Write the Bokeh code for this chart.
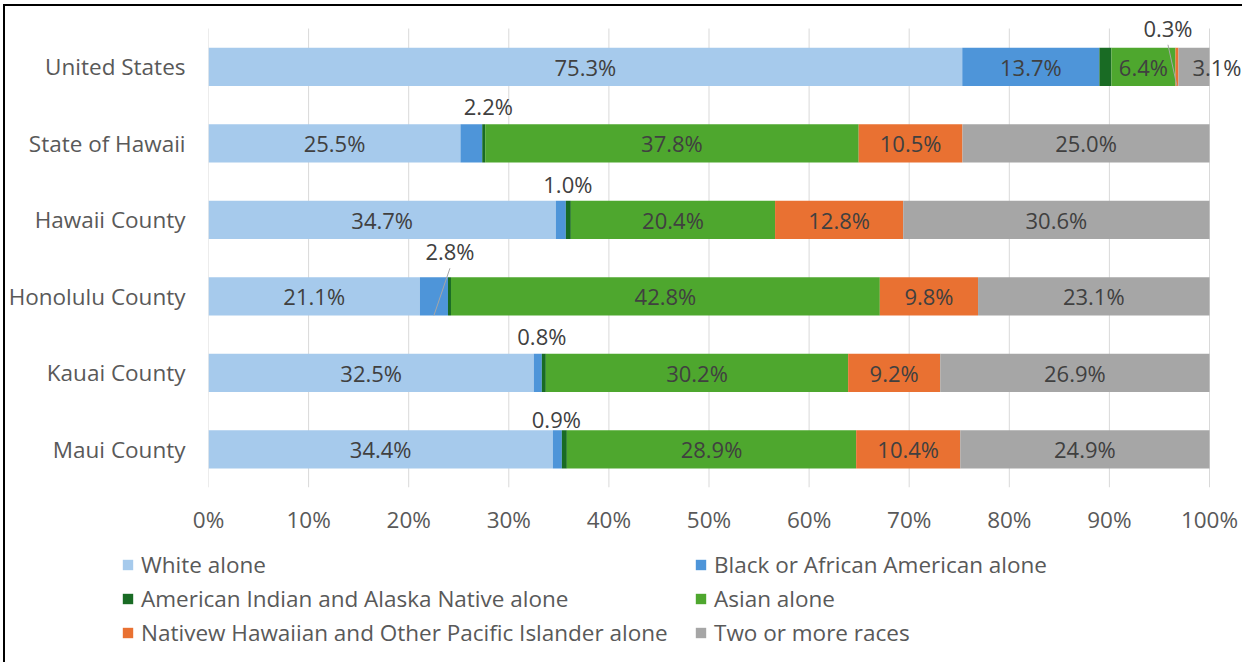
from bokeh.plotting import figure
from bokeh.layouts import column
from bokeh.models import (ColumnDataSource, Range1d, FixedTicker, Legend, LegendItem)
from bokeh.embed import file_html
from bokeh.resources import INLINE
from bokeh.core.properties import value

# ---------------- data ----------------
areas = ["United States", "State of Hawaii", "Hawaii County",
         "Honolulu County", "Kauai County", "Maui County"]
series = ["White alone", "Black or African American alone",
          "American Indian and Alaska Native alone", "Asian alone",
          "Nativew Hawaiian and Other Pacific Islander alone", "Two or more races"]
white = [75.3, 25.5, 34.7, 21.1, 32.5, 34.4]
black = [13.7, 2.2, 1.0, 2.8, 0.8, 0.9]
aian = [1.2, 0.3, 0.5, 0.3, 0.4, 0.5]
asian = [6.4, 37.8, 20.4, 42.8, 30.2, 28.9]
nhpi = [0.3, 10.5, 12.8, 9.8, 9.2, 10.4]
two_more = [3.1, 25.0, 30.6, 23.1, 26.9, 24.9]
x_ticks = [0, 10, 20, 30, 40, 50, 60, 70, 80, 90, 100]
x_tick_labels = ["0%", "10%", "20%", "30%", "40%", "50%", "60%", "70%", "80%", "90%", "100%"]

# ---------------- styles ----------------
colors = ["#A6CAEC", "#4E95D9", "#196B24", "#4EA72E", "#E97132", "#A6A6A6"]
FONT = value("Open Sans")
FS = "22px"
AX_FS = "22.5px"
keys = ["s0", "s1", "s2", "s3", "s4", "s5"]
outside_labels = {(0, 4): (-9, -39), (1, 1): (17, -37), (2, 1): (7, -36),
                  (3, 1): (16, -45), (4, 1): (4, -37), (5, 1): (-1, -30)}
nudged_labels = {(0, 5): (23, 0)}
hidden_series = {2}
hidden_inside = {(i, 1) for i in range(1, 6)}
leader_lines = [(0, 4), (3, 1)]
FRAME_W, FRAME_H = 1036, 480
PX_X = 1001 / 100.0   # px per % unit
PX_Y = 459 / 6.0      # px per category unit
BAR_H = 0.5
n = len(areas)
ypos = [n - 0.5 - i for i in range(n)]

all_vals = [white, black, aian, asian, nhpi, two_more]
norm = {k: [] for k in keys}
for i in range(n):
    tot = sum(v[i] for v in all_vals)
    for k, v in zip(keys, all_vals):
        norm[k].append(v[i] / tot * 100.0)

src = ColumnDataSource(dict(y=ypos, **norm))

p = figure(x_range=Range1d(0, FRAME_W / PX_X), y_range=Range1d(0, FRAME_H / PX_Y),
           frame_width=FRAME_W, frame_height=FRAME_H,
           min_border_left=201, min_border_right=0, min_border_top=1,
           min_border_bottom=52,
           output_backend="svg", toolbar_location=None)

# vertical gridlines spanning the category band only
p.segment(x0=x_ticks, x1=x_ticks, y0=[0] * len(x_ticks), y1=[n] * len(x_ticks),
          line_color="#D9D9D9", line_width=1, level="underlay")

rends = p.hbar_stack(keys, y="y", height=BAR_H, color=colors, source=src,
                     line_color=None)

# data labels
lx, ly, lt, ldx, ldy = [], [], [], [], []
seg_lines = dict(x0=[], y0=[], x1=[], y1=[])
for i in range(n):
    cum = 0.0
    for j, k in enumerate(keys):
        w = norm[k][i]
        c = cum + w / 2.0
        cum += w
        if j in hidden_series:
            continue
        if (i, j) in outside_labels:
            dx, dy = outside_labels[(i, j)]
        elif (i, j) in hidden_inside:
            continue
        else:
            dx, dy = nudged_labels.get((i, j), (0, 0))
        lx.append(c)
        ly.append(ypos[i])
        lt.append(f"{all_vals[j][i]:.1f}%")
        ldx.append(dx)
        ldy.append(dy)
        if (i, j) in leader_lines:
            seg_lines["x0"].append(c + dx / PX_X)
            seg_lines["y0"].append(ypos[i] + (-dy - 17) / PX_Y)
            seg_lines["x1"].append(c)
            seg_lines["y1"].append(ypos[i] - BAR_H / 2)

p.segment(x0="x0", y0="y0", x1="x1", y1="y1", source=ColumnDataSource(seg_lines),
          line_color="#A6A6A6", line_width=1)
p.text(x="x", y="y", text="t", x_offset="dx", y_offset="dy",
       source=ColumnDataSource(dict(x=lx, y=ly, t=lt, dx=ldx, dy=ldy)),
       text_align="center", text_baseline="middle", text_font=FONT,
       text_font_size=FS, text_color="#404040")

# axes
p.xaxis.ticker = FixedTicker(ticks=x_ticks)
p.xaxis.major_label_overrides = {t: l for t, l in zip(x_ticks, x_tick_labels)}
p.yaxis.ticker = FixedTicker(ticks=ypos)
p.yaxis.major_label_overrides = {y: a for y, a in zip(ypos, areas)}
for ax in (p.xaxis[0], p.yaxis[0]):
    ax.axis_line_color = None
    ax.major_tick_line_color = None
    ax.minor_tick_line_color = None
    ax.major_label_text_font = "Open Sans"
    ax.major_label_text_font_size = AX_FS
    ax.major_label_text_color = "#595959"
p.xaxis.major_label_standoff = 10
p.yaxis.major_label_standoff = 17
p.xgrid.grid_line_color = None
p.ygrid.grid_line_color = None
p.outline_line_color = None

# legend panel: a second, axis-less figure holding a two-column legend
p2 = figure(x_range=Range1d(0, 1), y_range=Range1d(0, 1),
            frame_width=1237, frame_height=125,
            min_border_left=0, min_border_right=0, min_border_top=0, min_border_bottom=0,
            output_backend="svg", toolbar_location=None)
p2.axis.visible = False
p2.grid.visible = False
p2.outline_line_color = None
nan = float("nan")
swatches = [p2.hbar(y=[nan], left=[nan], right=[nan], height=1,
                    fill_color=c, line_color=None) for c in colors]
legend = Legend(items=[LegendItem(label=s, renderers=[r]) for s, r in zip(series, swatches)],
                location=(116, 15), orientation="horizontal", ncols=2,
                glyph_width=13, glyph_height=13, label_standoff=7,
                label_width=553, label_height=34, spacing=0, padding=0, margin=0,
                border_line_color=None, background_fill_alpha=0,
                label_text_font="Open Sans", label_text_font_size=AX_FS,
                label_text_color="#595959")
p2.add_layout(legend, "center")

layout = column(p, p2, spacing=0,
                styles={"box-shadow": "-2px -2px 0 0 #000000",
                        "margin-left": "5px", "margin-top": "6px"})
open("out.html", "w").write(file_html(layout, INLINE))
